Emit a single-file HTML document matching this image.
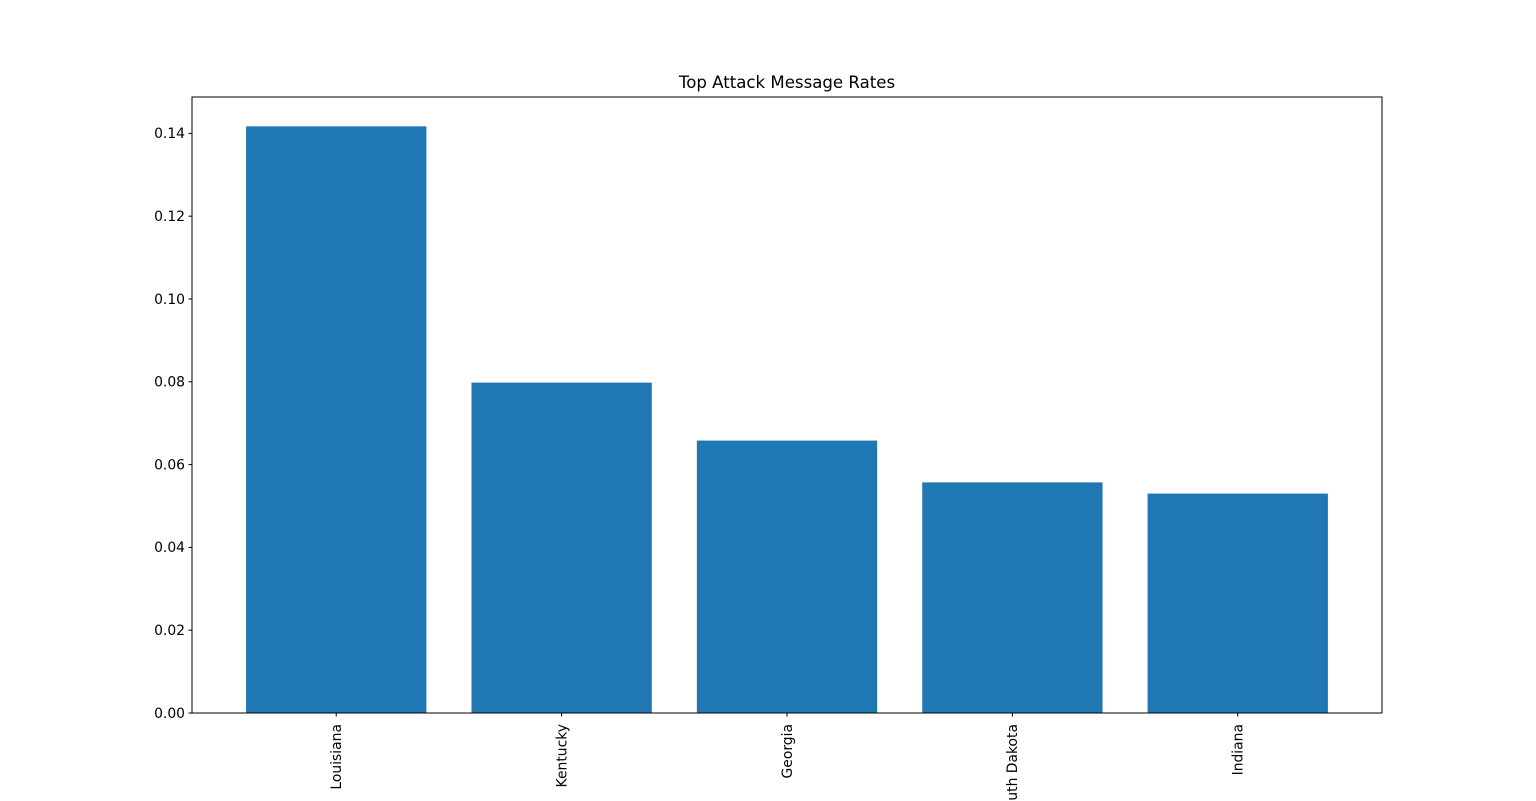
<!DOCTYPE html>
<html><head><meta charset="utf-8"><style>
html,body{margin:0;padding:0;background:#fff;width:1536px;height:801px;overflow:hidden}
svg{display:block;font-family:"DejaVu Sans","Liberation Sans",sans-serif}
</style></head><body>
<svg id="chart" width="1536" height="801">
<text x="787" y="88" text-anchor="middle" font-size="16.6">Top Attack Message Rates</text>
<g id="bars"></g><g id="yaxis"></g><g id="xaxis"></g>
<rect x="192" y="97" width="1190" height="616" fill="none" stroke="#000" stroke-width="1"/>
</svg>
<script>
const categories = ["Louisiana","Kentucky","Georgia","South Dakota","Indiana"];
const values = [0.1417,0.0798,0.0658,0.0557,0.0530];
const yTicks = [0,0.02,0.04,0.06,0.08,0.10,0.12,0.14];
const yTickLabels = ["0.00","0.02","0.04","0.06","0.08","0.10","0.12","0.14"];
const L=192,R=1382,T=97,B=713;
const yMax=Math.max(...values)*1.05;
const xMin=-0.64, xMax=categories.length-1+0.64;
const xs=v=>L+(v-xMin)/(xMax-xMin)*(R-L);
const ys=v=>B-v/yMax*(B-T);
const NS="http://www.w3.org/2000/svg";
const mk=(t,a,p)=>{const e=document.createElementNS(NS,t);for(const k in a)e.setAttribute(k,a[k]);p.appendChild(e);return e;};
const bars=document.getElementById('bars'),ya=document.getElementById('yaxis'),xa=document.getElementById('xaxis');
const bw=xs(0.4)-xs(-0.4);
values.forEach((v,i)=>{
  const r=mk('rect',{x:xs(i)-bw/2,y:ys(v),width:bw,height:B-ys(v),fill:'#1f77b4'},bars);
  
  
  const tk=mk('line',{x1:xs(i),x2:xs(i),y1:B,y2:B+3.5,stroke:'#000'},xa);
  
  
  const t=mk('text',{x:0,y:0,'font-size':13.9,'text-anchor':'end',transform:`translate(${xs(i)+4.8},724) rotate(-90)`},xa);
  t.textContent=categories[i];
  
  
});
yTicks.forEach((v,i)=>{
  const tk=mk('line',{x1:L-3.5,x2:L,y1:ys(v),y2:ys(v),stroke:'#000'},ya);
  
  
  const t=mk('text',{x:L-7,y:ys(v)+4.8,'font-size':13.9,'text-anchor':'end'},ya);
  t.textContent=yTickLabels[i];
  
  
});
</script>
</body></html>
